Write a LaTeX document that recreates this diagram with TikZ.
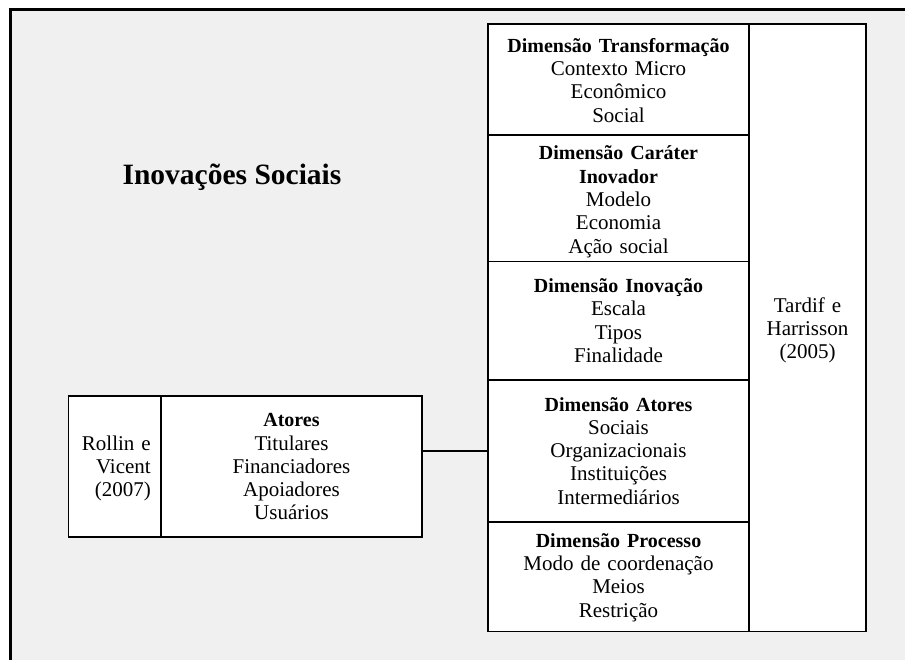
\documentclass[tikz,border=0pt]{standalone}
\usepackage{fontspec}
\setmainfont{Liberation Serif}
\definecolor{bggray}{HTML}{F0F0F0}
\newcommand\myhd[1]{{\fontsize{20}{23.3}\selectfont\bfseries #1}}
\begin{document}
\begin{tikzpicture}[x=1pt,y=-1pt,
  cell/.style={draw, line width=1.8pt, inner sep=0pt, outer sep=0pt, anchor=north west},
  txt/.style={anchor=base, align=center, inner sep=0pt, font=\fontsize{21}{23.3}\selectfont}]
\useasboundingbox (0,0) rectangle (905,660);
\fill[white] (0,0) rectangle (905,660);
\fill[bggray] (10.5,9.5) rectangle (905,660);
\draw[line width=3pt] (10.5,660) -- (10.5,9.5) -- (905,9.5);
\fill[white] (488,24) rectangle (866,631.5);
\fill[white] (68.5,396) rectangle (422,537);

% right column
\node[cell, minimum width=261pt, minimum height=111pt] (dtrans) at (488,24) {};
\node[cell, minimum width=261pt, minimum height=126.5pt] (dcar) at (488,135) {};
\node[cell, minimum width=261pt, minimum height=118.5pt] (dinov) at (488,261.5) {};
\node[cell, minimum width=261pt, minimum height=142pt] (datores) at (488,380) {};
\node[cell, minimum width=261pt, minimum height=109.5pt] (dproc) at (488,522) {};
\node[cell, minimum width=117pt, minimum height=607.5pt] (tardif) at (749,24) {};

% left box
\node[cell, minimum width=92.5pt, minimum height=141pt] (rollin) at (68.5,396) {};
\node[cell, minimum width=261pt, minimum height=141pt] (atores) at (161,396) {};

% connector
\draw[line width=1.8pt] (atores.east |- datores.west) -- (datores.west);

% texts
\node[anchor=base, inner sep=0pt, font=\fontsize{29.5}{33}\selectfont\bfseries] (title) at (232,185) {Inovações Sociais};

\node[txt, text width=255pt] (ttrans) at (618.5,52.3) {\myhd{Dimensão Transformação}\\Contexto Micro\\Econômico\\Social};
\node[txt, text width=255pt] (tcar) at (618.5,160) {\myhd{Dimensão Caráter}\\\myhd{Inovador}\\Modelo\\Economia\\Ação social};
\node[txt, text width=255pt] (tinov) at (618.5,292.7) {\myhd{Dimensão Inovação}\\Escala\\Tipos\\Finalidade};
\node[txt, text width=255pt] (tatores) at (618.5,411) {\myhd{Dimensão Atores}\\Sociais\\Organizacionais\\Instituições\\Intermediários};
\node[txt, text width=255pt] (tproc) at (618.5,547.3) {\myhd{Dimensão Processo}\\Modo de coordenação\\Meios\\Restrição};
\node[txt, text width=110pt] (ttardif) at (807.5,312.3) {Tardif e\\Harrisson\\(2005)};

\node[txt, text width=255pt] (tatl) at (291.5,426.7) {\myhd{Atores}\\Titulares\\Financiadores\\Apoiadores\\Usuários};
\node[txt, text width=85pt, align=right, anchor=base east] (trollin) at (151,450) {Rollin e\\Vicent\\(2007)};
\end{tikzpicture}
\end{document}
